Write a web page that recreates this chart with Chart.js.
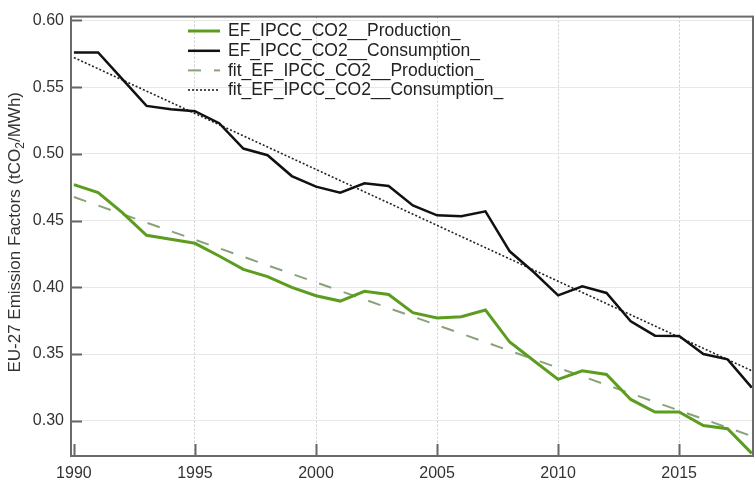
<!DOCTYPE html>
<html>
<head>
<meta charset="utf-8">
<script src="https://cdn.jsdelivr.net/npm/chart.js@4.4.1/dist/chart.umd.min.js"></script>
<style>
  html, body { margin: 0; padding: 0; background: #ffffff; }
  canvas { display: block; }
</style>
</head>
<body>
<canvas id="chart" width="756" height="485"></canvas>
<script>
// EU-27 CO2 emission factors of electricity (tCO2/MWh), 1990-2018
const years = [1990, 1991, 1992, 1993, 1994, 1995, 1996, 1997, 1998, 1999,
               2000, 2001, 2002, 2003, 2004, 2005, 2006, 2007, 2008, 2009,
               2010, 2011, 2012, 2013, 2014, 2015, 2016, 2017, 2018];

const production = [0.477, 0.471, 0.456, 0.439, 0.436, 0.433, 0.4235, 0.4135, 0.408, 0.400,
                    0.3937, 0.3897, 0.397, 0.3946, 0.381, 0.377, 0.378, 0.383, 0.359, 0.345,
                    0.331, 0.3374, 0.3347, 0.316, 0.3066, 0.3066, 0.2965, 0.294, 0.2756];

const consumption = [0.576, 0.576, 0.556, 0.536, 0.5335, 0.532, 0.523, 0.504, 0.499, 0.4834,
                     0.4755, 0.471, 0.478, 0.476, 0.4614, 0.454, 0.4533, 0.457, 0.427, 0.4113,
                     0.394, 0.4007, 0.3958, 0.3746, 0.3638, 0.3636, 0.350, 0.346, 0.3248];

// Linear trend lines, given by their values at the first and last year
const fitYears = [1990, 2018];
const fitProduction = [0.4677, 0.2885];
const fitConsumption = [0.5722, 0.3375];

const seriesLabels = [
  'EF_IPCC_CO2__Production_',
  'EF_IPCC_CO2__Consumption_',
  'fit_EF_IPCC_CO2__Production_',
  'fit_EF_IPCC_CO2__Consumption_'
];

const xTickYears = [1990, 1995, 2000, 2005, 2010, 2015];
const yTickValues = [0.30, 0.35, 0.40, 0.45, 0.50, 0.55, 0.60];

const FONT = '"Liberation Sans", Arial, Helvetica, sans-serif';
const pts = (xs, ys) => xs.map((x, i) => ({ x: x, y: ys[i] }));

// Box frame, inward tick marks, in-plot legend and the y-axis title
const decorations = {
  id: 'decorations',
  afterDraw(chart) {
    const ctx = chart.ctx;
    const a = chart.chartArea;
    const xs = chart.scales.x, ys = chart.scales.y;
    ctx.save();

    // tick marks pointing into the plot
    ctx.strokeStyle = '#666666';
    ctx.lineWidth = 2;
    ctx.beginPath();
    yTickValues.forEach(v => {
      const y = Math.round(ys.getPixelForValue(v)) + 0.5;
      ctx.moveTo(a.left, y); ctx.lineTo(a.left + 11, y);
    });
    xTickYears.forEach(v => {
      const x = Math.round(xs.getPixelForValue(v)) + 0.5;
      ctx.moveTo(x, a.bottom); ctx.lineTo(x, a.bottom - 12);
    });
    ctx.stroke();

    // frame
    ctx.strokeStyle = '#6a6a6a';
    ctx.lineWidth = 2;
    ctx.strokeRect(a.left, a.top, a.right - a.left, a.bottom - a.top);

    // legend inside the plot, no box
    const rowY = [31, 50.8, 70.4, 90];
    chart.data.datasets.forEach((ds, i) => {
      const y = rowY[i];
      ctx.save();
      ctx.strokeStyle = ds.borderColor;
      ctx.lineWidth = ds.borderWidth;
      ctx.setLineDash(ds.borderDash || []);
      ctx.beginPath();
      ctx.moveTo(188, y); ctx.lineTo(220, y);
      ctx.stroke();
      ctx.restore();
      ctx.fillStyle = '#222222';
      ctx.font = '17.5px ' + FONT;
      ctx.textBaseline = 'middle';
      ctx.textAlign = 'left';
      ctx.fillText(ds.label, 228, y + 0.5);
    });

    // rotated y-axis title with subscript 2
    ctx.translate(20, (a.top + a.bottom) / 2 - 4);
    ctx.rotate(-Math.PI / 2);
    ctx.fillStyle = '#333333';
    ctx.textBaseline = 'alphabetic';
    ctx.textAlign = 'left';
    const big = '17px ' + FONT, small = '12px ' + FONT;
    const p1 = 'EU-27 Emission Factors (tCO', p2 = '2', p3 = '/MWh)';
    ctx.font = big; const w1 = ctx.measureText(p1).width, w3 = ctx.measureText(p3).width;
    ctx.font = small; const w2 = ctx.measureText(p2).width;
    let x0 = -(w1 + w2 + w3) / 2;
    ctx.font = big; ctx.fillText(p1, x0, 0); x0 += w1;
    ctx.font = small; ctx.fillText(p2, x0, 4); x0 += w2;
    ctx.font = big; ctx.fillText(p3, x0, 0);

    ctx.restore();
  }
};

new Chart(document.getElementById('chart'), {
  type: 'line',
  data: {
    datasets: [
      {
        label: seriesLabels[0],
        data: pts(years, production),
        borderColor: '#5c9c1e',
        borderWidth: 3,
        pointRadius: 0,
        tension: 0
      },
      {
        label: seriesLabels[1],
        data: pts(years, consumption),
        borderColor: '#111111',
        borderWidth: 2.5,
        pointRadius: 0,
        tension: 0
      },
      {
        label: seriesLabels[2],
        data: pts(fitYears, fitProduction),
        borderColor: '#8aa27c',
        borderWidth: 2,
        borderDash: [13, 13],
        pointRadius: 0
      },
      {
        label: seriesLabels[3],
        data: pts(fitYears, fitConsumption),
        borderColor: '#222222',
        borderWidth: 1.6,
        borderDash: [2, 2],
        pointRadius: 0
      }
    ]
  },
  options: {
    responsive: false,
    animation: false,
    devicePixelRatio: 1,
    layout: { padding: { top: 7, right: 3, bottom: 0, left: 0 } },
    plugins: {
      legend: { display: false },
      tooltip: { enabled: false }
    },
    scales: {
      x: {
        type: 'linear',
        min: 1989.88,
        max: 2018.05,
        afterBuildTicks: s => { s.ticks = xTickYears.map(v => ({ value: v })); },
        afterFit: s => { s.height = 29; },
        ticks: {
          autoSkip: false,
          maxRotation: 0,
          padding: 8,
          color: '#333333',
          font: { family: FONT, size: 16 },
          callback: v => String(v)
        },
        grid: {
          drawTicks: false,
          lineWidth: 1,
          color: c => (c.tick && c.tick.value === 1990) ? 'rgba(0,0,0,0)' : '#c9c9c9'
        },
        border: { display: false, dash: [2, 2] }
      },
      y: {
        type: 'linear',
        min: 0.2736,
        max: 0.6029,
        afterBuildTicks: s => { s.ticks = yTickValues.map(v => ({ value: v })); },
        afterFit: s => { s.width = 71; },
        ticks: {
          padding: 7,
          color: '#333333',
          font: { family: FONT, size: 16 },
          callback: v => Number(v).toFixed(2)
        },
        grid: {
          drawTicks: false,
          lineWidth: 1,
          color: '#e8e8e8'
        },
        border: { display: false }
      }
    }
  },
  plugins: [decorations]
});
</script>
</body>
</html>
